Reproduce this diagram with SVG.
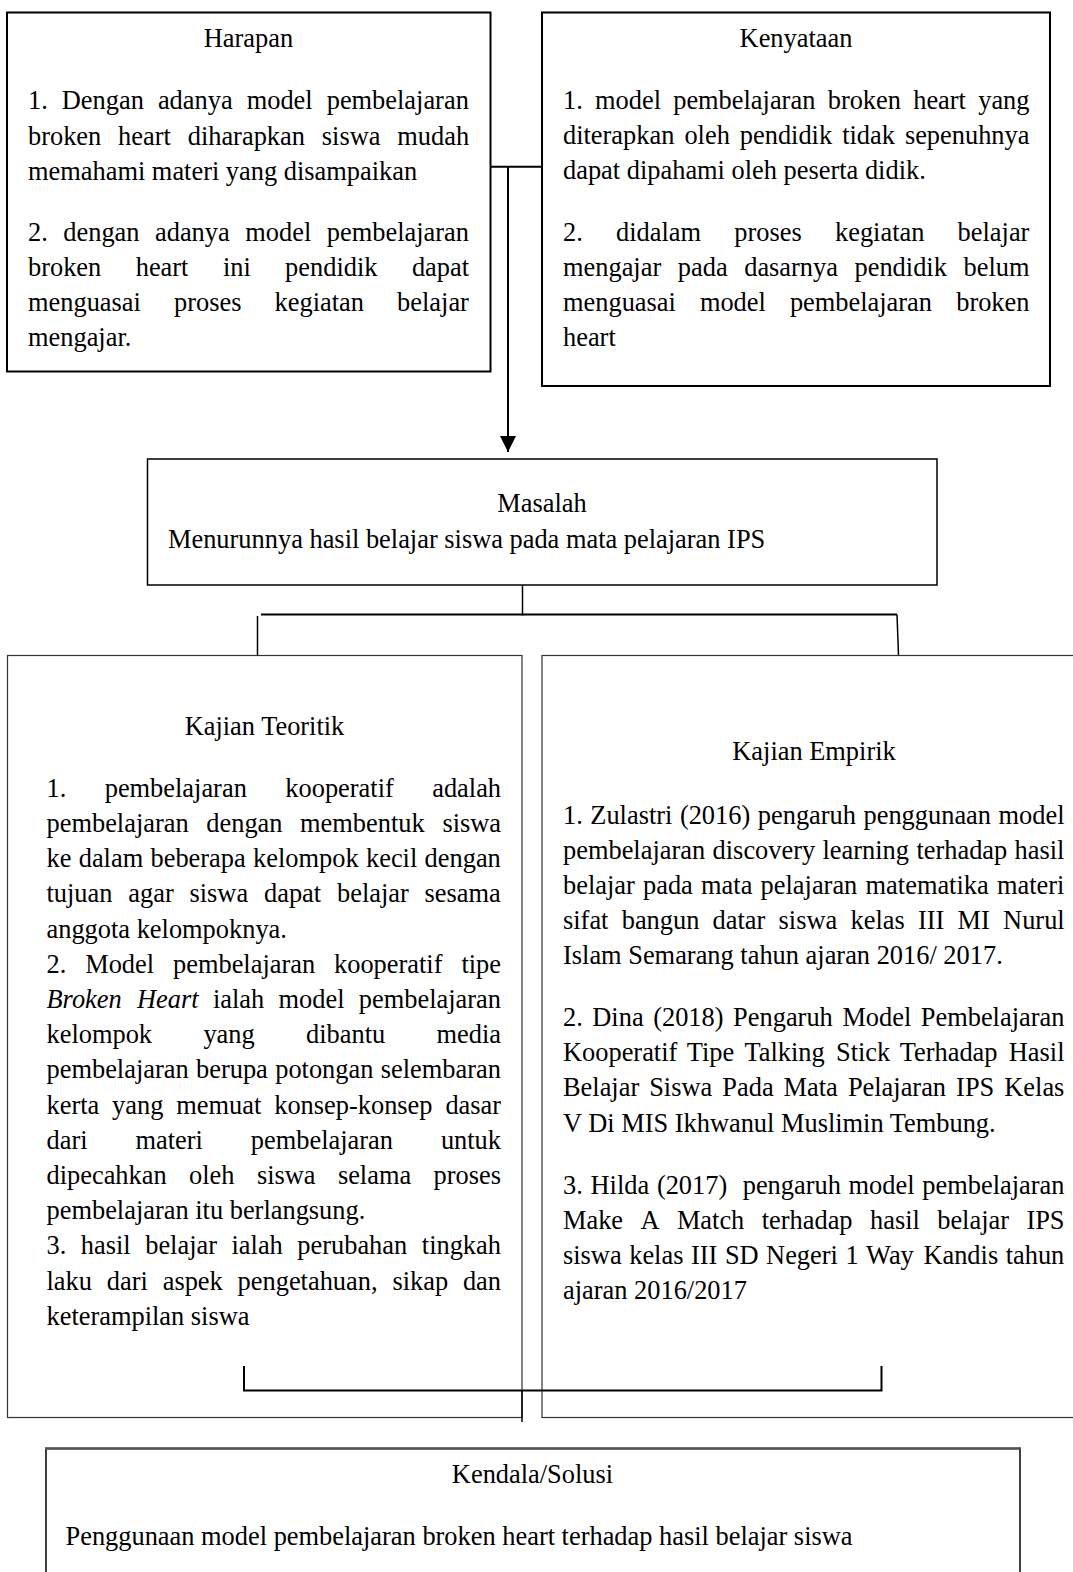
<svg xmlns="http://www.w3.org/2000/svg" width="1073" height="1572" viewBox="0 0 1073 1572">
<style>
.t{font-family:"Liberation Serif","Times New Roman",serif;font-size:26.4px;fill:#000}
.c{text-anchor:middle}
.i{font-style:italic}
.b1{fill:#fff;stroke:#000;stroke-width:2}
.b2{fill:#fff;stroke:#000;stroke-width:1.5}
.b3{fill:#fff;stroke:#333;stroke-width:1.2}
.ln{fill:none;stroke:#000;stroke-width:2}
.ln1{fill:none;stroke:#000;stroke-width:1.5}
</style>
<defs>
<marker id="arr" viewBox="0 0 16 16" refX="16" refY="8" markerWidth="16" markerHeight="16" markerUnits="userSpaceOnUse" orient="auto">
<path d="M0,0 L16,8 L0,16 z" fill="#000"/>
</marker>
</defs>

<g id="harapan">
<rect class="b1" x="7" y="12.5" width="483.5" height="359"/>
<text class="t c" x="248.5" y="47">Harapan</text>
<text class="t" y="109.3"><tspan x="28">1.</tspan><tspan x="61.8">Dengan</tspan><tspan x="157.9">adanya</tspan><tspan x="246.7">model</tspan><tspan x="326.7">pembelajaran</tspan></text>
<text class="t" y="144.5"><tspan x="28">broken</tspan><tspan x="118.1">heart</tspan><tspan x="187.7">diharapkan</tspan><tspan x="321.8">siswa</tspan><tspan x="397.3">mudah</tspan></text>
<text class="t" x="28" y="179.7">memahami materi yang disampaikan</text>
<text class="t" y="240.7"><tspan x="28">2.</tspan><tspan x="63.3">dengan</tspan><tspan x="155">adanya</tspan><tspan x="245.3">model</tspan><tspan x="326.8">pembelajaran</tspan></text>
<text class="t" y="275.9"><tspan x="28">broken</tspan><tspan x="135.7">heart</tspan><tspan x="222.9">ini</tspan><tspan x="285.1">pendidik</tspan><tspan x="411.9">dapat</tspan></text>
<text class="t" y="311.1"><tspan x="28">menguasai</tspan><tspan x="174">proses</tspan><tspan x="274.6">kegiatan</tspan><tspan x="397.1">belajar</tspan></text>
<text class="t" x="28" y="346.3">mengajar.</text>
</g>

<g id="kenyataan">
<rect class="b1" x="542" y="12.5" width="508" height="373.5"/>
<text class="t c" x="796" y="47">Kenyataan</text>
<text class="t" y="109"><tspan x="563">1.</tspan><tspan x="595">model</tspan><tspan x="673.2">pembelajaran</tspan><tspan x="827.7">broken</tspan><tspan x="913.2">heart</tspan><tspan x="978.2">yang</tspan></text>
<text class="t" y="144.2"><tspan x="563">diterapkan</tspan><tspan x="684.4">oleh</tspan><tspan x="739.8">pendidik</tspan><tspan x="842.2">tidak</tspan><tspan x="904.9">sepenuhnya</tspan></text>
<text class="t" x="563" y="179.4">dapat dipahami oleh peserta didik.</text>
<text class="t" y="240.7"><tspan x="563">2.</tspan><tspan x="616">didalam</tspan><tspan x="734.3">proses</tspan><tspan x="835">kegiatan</tspan><tspan x="957.6">belajar</tspan></text>
<text class="t" y="275.9"><tspan x="563">mengajar</tspan><tspan x="677.8">pada</tspan><tspan x="744.2">dasarnya</tspan><tspan x="854.5">pendidik</tspan><tspan x="963.5">belum</tspan></text>
<text class="t" y="311.1"><tspan x="563">menguasai</tspan><tspan x="699.9">model</tspan><tspan x="789.9">pembelajaran</tspan><tspan x="956.2">broken</tspan></text>
<text class="t" x="563" y="346.3">heart</text>
</g>

<g id="masalah">
<rect class="b2" x="147.5" y="459" width="789.5" height="126"/>
<text class="t c" x="542" y="511.5">Masalah</text>
<text class="t" x="168" y="548">Menurunnya hasil belajar siswa pada mata pelajaran IPS</text>
</g>

<g id="kajian-teoritik">
<rect class="b3" x="7.5" y="655.5" width="514.5" height="762"/>
<text class="t c" x="264.5" y="735">Kajian Teoritik</text>
<text class="t" y="796.7"><tspan x="46.5">1.</tspan><tspan x="104.7">pembelajaran</tspan><tspan x="285.3">kooperatif</tspan><tspan x="432.2">adalah</tspan></text>
<text class="t" y="831.9"><tspan x="46.5">pembelajaran</tspan><tspan x="206.3">dengan</tspan><tspan x="300.1">membentuk</tspan><tspan x="442.4">siswa</tspan></text>
<text class="t" y="867.1"><tspan x="46.5">ke</tspan><tspan x="78.7">dalam</tspan><tspan x="150.5">beberapa</tspan><tspan x="253.1">kelompok</tspan><tspan x="366">kecil</tspan><tspan x="424.6">dengan</tspan></text>
<text class="t" y="902.3"><tspan x="46.5">tujuan</tspan><tspan x="128.3">agar</tspan><tspan x="189.5">siswa</tspan><tspan x="264">dapat</tspan><tspan x="337">belajar</tspan><tspan x="424.6">sesama</tspan></text>
<text class="t" x="46.5" y="937.5">anggota kelompoknya.</text>
<text class="t" y="972.7"><tspan x="46.5">2.</tspan><tspan x="85.2">Model</tspan><tspan x="173">pembelajaran</tspan><tspan x="334">kooperatif</tspan><tspan x="461.4">tipe</tspan></text>
<text class="t" y="1007.9"><tspan x="46.5" class="i">Broken</tspan><tspan x="137" class="i">Heart</tspan><tspan x="212.9">ialah</tspan><tspan x="278.5">model</tspan><tspan x="358.8">pembelajaran</tspan></text>
<text class="t" y="1043.1"><tspan x="46.5">kelompok</tspan><tspan x="203.4">yang</tspan><tspan x="306">dibantu</tspan><tspan x="436.5">media</tspan></text>
<text class="t" y="1078.3"><tspan x="46.5">pembelajaran</tspan><tspan x="196">berupa</tspan><tspan x="275.2">potongan</tspan><tspan x="380.8">selembaran</tspan></text>
<text class="t" y="1113.5"><tspan x="46.5">kerta</tspan><tspan x="112.1">yang</tspan><tspan x="176.3">memuat</tspan><tspan x="274.2">konsep-konsep</tspan><tspan x="445.4">dasar</tspan></text>
<text class="t" y="1148.7"><tspan x="46.5">dari</tspan><tspan x="135.5">materi</tspan><tspan x="250.8">pembelajaran</tspan><tspan x="440.9">untuk</tspan></text>
<text class="t" y="1183.9"><tspan x="46.5">dipecahkan</tspan><tspan x="189.1">oleh</tspan><tspan x="256.9">siswa</tspan><tspan x="337.9">selama</tspan><tspan x="433.6">proses</tspan></text>
<text class="t" x="46.5" y="1219.1">pembelajaran itu berlangsung.</text>
<text class="t" y="1254.3"><tspan x="46.5">3.</tspan><tspan x="80.8">hasil</tspan><tspan x="145.2">belajar</tspan><tspan x="231.5">ialah</tspan><tspan x="297.3">perubahan</tspan><tspan x="421.8">tingkah</tspan></text>
<text class="t" y="1289.5"><tspan x="46.5">laku</tspan><tspan x="106.8">dari</tspan><tspan x="162.7">aspek</tspan><tspan x="237.6">pengetahuan,</tspan><tspan x="392.4">sikap</tspan><tspan x="462.9">dan</tspan></text>
<text class="t" x="46.5" y="1324.7">keterampilan siswa</text>
</g>

<g id="kajian-empirik">
<rect class="b3" x="542" y="655.5" width="545" height="762"/>
<text class="t c" x="814" y="760">Kajian Empirik</text>
<text class="t" y="823.5"><tspan x="563">1.</tspan><tspan x="590.3">Zulastri</tspan><tspan x="679.9">(2016)</tspan><tspan x="757.8">pengaruh</tspan><tspan x="863.5">penggunaan</tspan><tspan x="998.6">model</tspan></text>
<text class="t" y="858.7"><tspan x="563">pembelajaran</tspan><tspan x="712.6">discovery</tspan><tspan x="822.5">learning</tspan><tspan x="916.4">terhadap</tspan><tspan x="1014.6">hasil</tspan></text>
<text class="t" y="893.9"><tspan x="563">belajar</tspan><tspan x="643">pada</tspan><tspan x="701.1">mata</tspan><tspan x="760.6">pelajaran</tspan><tspan x="865.6">matematika</tspan><tspan x="997">materi</tspan></text>
<text class="t" y="929.1"><tspan x="563">sifat</tspan><tspan x="621.7">bangun</tspan><tspan x="712.6">datar</tspan><tspan x="778.6">siswa</tspan><tspan x="850.5">kelas</tspan><tspan x="918">III</tspan><tspan x="957.6">MI</tspan><tspan x="1003.1">Nurul</tspan></text>
<text class="t" x="563" y="964.3">Islam Semarang tahun ajaran 2016/ 2017.</text>
<text class="t" y="1026"><tspan x="563">2.</tspan><tspan x="592.3">Dina</tspan><tspan x="653.2">(2018)</tspan><tspan x="733.1">Pengaruh</tspan><tspan x="842.4">Model</tspan><tspan x="920.8">Pembelajaran</tspan></text>
<text class="t" y="1061.2"><tspan x="563">Kooperatif</tspan><tspan x="686.8">Tipe</tspan><tspan x="744.5">Talking</tspan><tspan x="836">Stick</tspan><tspan x="899.7">Terhadap</tspan><tspan x="1008.8">Hasil</tspan></text>
<text class="t" y="1096.4"><tspan x="563">Belajar</tspan><tspan x="649.2">Siswa</tspan><tspan x="722.3">Pada</tspan><tspan x="783.6">Mata</tspan><tspan x="847.9">Pelajaran</tspan><tspan x="956.1">IPS</tspan><tspan x="1004.3">Kelas</tspan></text>
<text class="t" x="563" y="1131.6">V Di MIS Ikhwanul Muslimin Tembung.</text>
<text class="t" y="1193.5"><tspan x="563">3.</tspan><tspan x="590.5">Hilda</tspan><tspan x="656.9">(2017)</tspan><tspan x="742.7">pengaruh</tspan><tspan x="848.6">model</tspan><tspan x="922.3">pembelajaran</tspan></text>
<text class="t" y="1228.7"><tspan x="563">Make</tspan><tspan x="640.5">A</tspan><tspan x="676.9">Match</tspan><tspan x="761.7">terhadap</tspan><tspan x="870">hasil</tspan><tspan x="937.2">belajar</tspan><tspan x="1026.4">IPS</tspan></text>
<text class="t" y="1263.9"><tspan x="563">siswa</tspan><tspan x="629.2">kelas</tspan><tspan x="691">III</tspan><tspan x="724.9">SD</tspan><tspan x="766.1">Negeri</tspan><tspan x="845.4">1</tspan><tspan x="866.1">Way</tspan><tspan x="923.4">Kandis</tspan><tspan x="1005.7">tahun</tspan></text>
<text class="t" x="563" y="1299.1">ajaran 2016/2017</text>
</g>

<g id="kendala">
<rect x="46" y="1448.5" width="974" height="200" fill="#fff" stroke="#000" stroke-width="1.5"/>
<line x1="45" y1="1448.5" x2="1021" y2="1448.5" stroke="#555" stroke-width="2.5"/>
<text class="t c" x="532.5" y="1483">Kendala/Solusi</text>
<text class="t" x="65.5" y="1545">Penggunaan model pembelajaran broken heart terhadap hasil belajar siswa</text>
</g>

<g id="connectors">
<path class="ln" d="M490.5,166.7 H542"/>
<path class="ln" d="M508,166.7 V452" marker-end="url(#arr)"/>
<path class="ln1" d="M522.5,585 V615.5"/>
<path class="ln" d="M261,614.5 H897"/>
<path class="ln1" d="M257.5,616 V655"/>
<path class="ln1" d="M897,614.5 L898.5,655"/>
<path class="ln" d="M244,1366 V1390.5 H881.5 V1366"/>
<path class="ln1" d="M522,1390 V1422"/>
</g>
</svg>
